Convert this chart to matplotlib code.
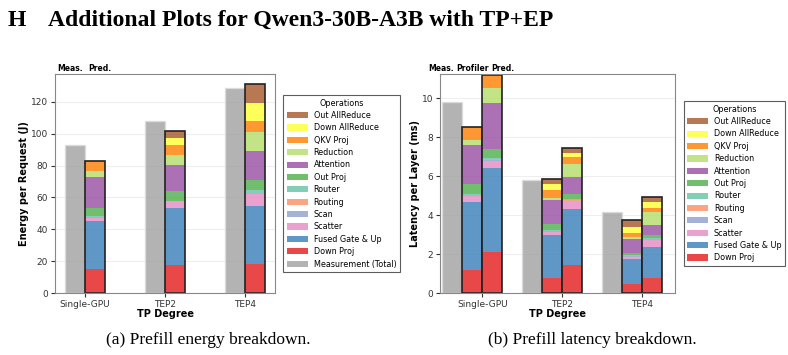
import numpy as np
import matplotlib
matplotlib.use('Agg')
import matplotlib.pyplot as plt
from matplotlib.patches import Patch

categories = ['Single-GPU', 'TEP2', 'TEP4']

# stacking order, bottom to top
ops = ['Down Proj', 'Fused Gate & Up', 'Scatter', 'Scan', 'Routing', 'Router',
       'Out Proj', 'Attention', 'Reduction', 'QKV Proj', 'Down AllReduce', 'Out AllReduce']
op_colors = ['#e41a1c', '#377eb8', '#e78ac3', '#8da0cb', '#fc8d62', '#66c2a5',
             '#4daf4a', '#984ea3', '#b3de69', '#ff7f00', '#ffff33', '#a65628']

energy_meas = [93.0, 107.8, 128.8]
energy_pred = [
    [15.1, 17.8, 18.5],   # Down Proj
    [30.4, 35.3, 36.0],   # Fused Gate & Up
    [1.9, 4.0, 7.5],      # Scatter
    [0.3, 0.3, 0.3],      # Scan
    [0.2, 0.2, 0.2],      # Routing
    [0.5, 0.5, 2.4],      # Router
    [5.3, 5.7, 5.9],      # Out Proj
    [19.1, 16.3, 18.1],   # Attention
    [3.6, 6.3, 12.1],     # Reduction
    [6.5, 6.7, 7.2],      # QKV Proj
    [0.0, 4.2, 11.3],     # Down AllReduce
    [0.0, 4.7, 11.5],     # Out AllReduce
]

latency_meas = [9.81, 5.79, 4.14]
latency_prof = [
    [1.20, 0.77, 0.45],
    [3.49, 2.19, 1.28],
    [0.30, 0.18, 0.13],
    [0.03, 0.03, 0.02],
    [0.02, 0.02, 0.01],
    [0.05, 0.05, 0.04],
    [0.50, 0.32, 0.14],
    [2.00, 1.20, 0.72],
    [0.26, 0.14, 0.09],
    [0.68, 0.37, 0.19],
    [0.00, 0.31, 0.34],
    [0.00, 0.28, 0.36],
]
latency_pred = [
    [2.12, 1.44, 0.79],
    [4.32, 2.89, 1.57],
    [0.36, 0.38, 0.36],
    [0.04, 0.04, 0.04],
    [0.02, 0.02, 0.02],
    [0.06, 0.04, 0.05],
    [0.49, 0.28, 0.17],
    [2.35, 0.85, 0.49],
    [0.79, 0.70, 0.67],
    [0.65, 0.35, 0.21],
    [0.00, 0.22, 0.29],
    [0.00, 0.24, 0.29],
]

MEAS_COLOR = '#a0a0a0'
ALPHA = 0.8
W = 0.25


def stacked_bar(ax, x, rows):
    bottom = np.zeros(len(x))
    for vals, c in zip(rows, op_colors):
        vals = np.array(vals)
        ax.bar(x, vals, W, bottom=bottom, color=c, alpha=ALPHA, linewidth=0)
        bottom += vals
    ax.bar(x, bottom, W, fill=False, edgecolor='#222222', linewidth=1.2)


def meas_bar(ax, x, vals):
    ax.bar(x, vals, W, color=MEAS_COLOR, alpha=ALPHA, edgecolor='#dcdcdc', linewidth=1)


def style_axes(ax, ylabel):
    ax.set_xticks(np.arange(len(categories)))
    ax.set_xticklabels(categories)
    ax.tick_params(labelsize=6.5, colors='#333333', length=3, pad=2)
    ax.set_xlabel('TP Degree', fontsize=7, fontweight='bold', labelpad=0)
    ax.set_ylabel(ylabel, fontsize=7, fontweight='bold', labelpad=1)
    ax.yaxis.grid(True, color='#eeeeee', linewidth=0.8)
    ax.set_axisbelow(True)
    for s in ax.spines.values():
        s.set_color('#888888')
        s.set_linewidth(0.8)


def add_legend(ax, with_meas):
    handles = [Patch(facecolor=c, alpha=ALPHA, label=o) for o, c in zip(ops, op_colors)][::-1]
    if with_meas:
        handles.append(Patch(facecolor=MEAS_COLOR, alpha=ALPHA, label='Measurement (Total)'))
    leg = ax.legend(handles=handles, title='Operations', loc='center left',
                    bbox_to_anchor=(1.02, 0.5), fontsize=5.8, title_fontsize=5.8,
                    fancybox=False, edgecolor='#333333', handlelength=2.6,
                    handleheight=0.8, labelspacing=0.42, borderpad=0.45,
                    handletextpad=0.7)
    leg.get_frame().set_linewidth(0.8)


fig = plt.figure(figsize=(7.88, 3.55), dpi=100)

x = np.arange(len(categories))

# (a) energy
ax1 = fig.add_axes([0.0698, 0.1746, 0.2792, 0.6169])
meas_bar(ax1, x - W / 2, energy_meas)
stacked_bar(ax1, x + W / 2, energy_pred)
style_axes(ax1, 'Energy per Request (J)')
ax1.set_yticks([0, 20, 40, 60, 80, 100, 120])
ax1.text(-0.19, 1.005, 'Meas.', transform=ax1.get_xaxis_transform(), ha='center', va='bottom',
         fontsize=5.5, fontweight='bold')
ax1.text(0.19, 1.005, 'Pred.', transform=ax1.get_xaxis_transform(), ha='center', va='bottom',
         fontsize=5.5, fontweight='bold')
add_legend(ax1, True)

# (b) latency
ax2 = fig.add_axes([0.5584, 0.1746, 0.2982, 0.6169])
meas_bar(ax2, x - 1.5 * W, latency_meas)
stacked_bar(ax2, x - 0.5 * W, latency_prof)
stacked_bar(ax2, x + 0.5 * W, latency_pred)
style_axes(ax2, 'Latency per Layer (ms)')
ax2.set_xlim(-0.53, 2.41)
ax2.set_ylim(0, 11.25)
ax2.set_yticks([0, 2, 4, 6, 8, 10])
for lbl, xp in [('Meas.', -0.52), ('Profiler', -0.12), ('Pred.', 0.25)]:
    ax2.text(xp, 1.005, lbl, transform=ax2.get_xaxis_transform(), ha='center', va='bottom',
             fontsize=5.5, fontweight='bold')
add_legend(ax2, False)

# page title and captions
fig.text(8 / 788, 1 - 20 / 355, 'H', family='Liberation Serif', fontweight='bold',
         fontsize=17, va='center', ha='left')
fig.text(48 / 788, 1 - 20 / 355, 'Additional Plots for Qwen3-30B-A3B with TP+EP',
         family='Liberation Serif', fontweight='bold', fontsize=17, va='center', ha='left')
fig.text(208 / 788, 1 - 340 / 355, '(a) Prefill energy breakdown.', family='Liberation Serif',
         fontsize=12.5, ha='center', va='center')
fig.text(592 / 788, 1 - 340 / 355, '(b) Prefill latency breakdown.', family='Liberation Serif',
         fontsize=12.5, ha='center', va='center')

fig.savefig('out.png', dpi=100)
